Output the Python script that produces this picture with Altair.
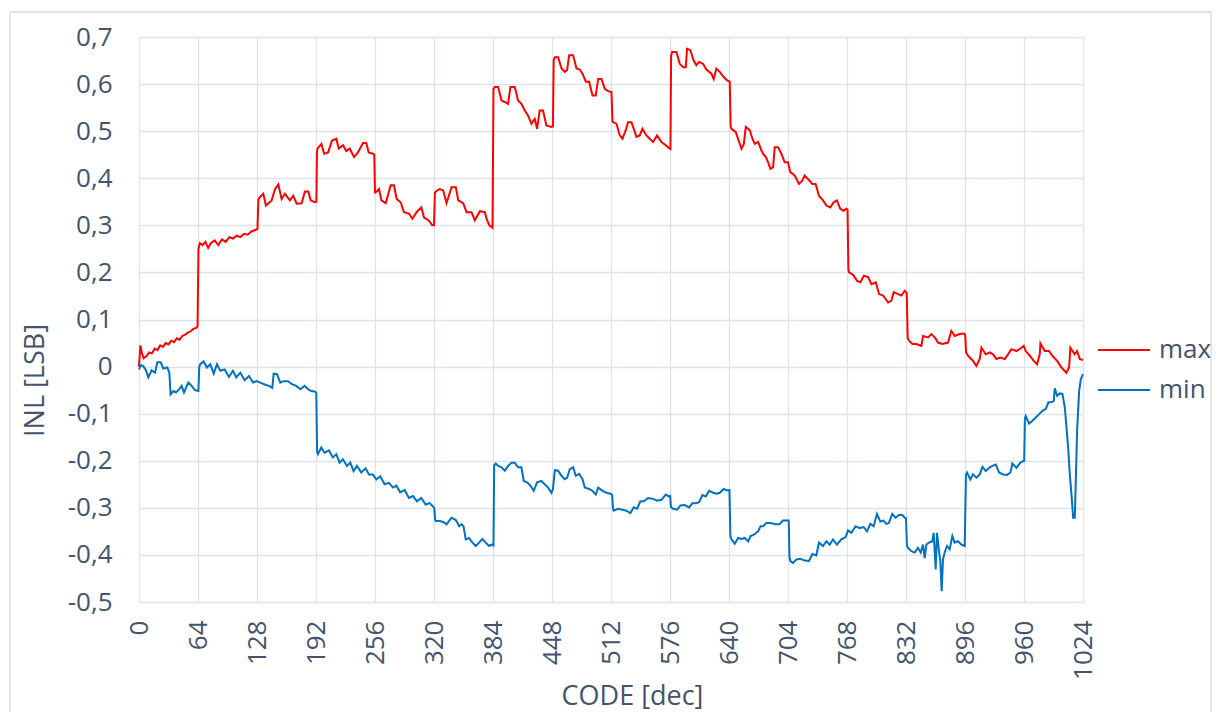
import altair as alt
import pandas as pd

# ---- data ----
max_code = [0, 1.5, 3, 5, 8, 11, 14, 17, 20, 23, 26, 29, 32, 35, 38, 41, 44, 47, 50, 53, 56, 59, 62, 63.5,
            64.5, 66, 69, 72, 75, 78, 82, 86, 90, 94, 98, 102, 106, 110, 114, 118, 122, 126, 128.5,
            129.5, 131.2, 134.8, 137.7, 143.9, 147.5, 151.1, 154.7, 158.3, 163.7, 167.3, 171, 176.4, 180, 183.6, 186.2, 190.8, 192.4,
            193, 193.6, 197.9, 200.8, 205.1, 209.4, 214.1, 216.6, 221.3, 224.9, 228.5, 233.2, 237.5, 243, 246.6, 249.1, 253.8, 255.2,
            256, 256.7, 260.4, 262.9, 267.6, 273, 276.6, 279.5, 283.8, 287.4, 292.9, 296.5, 301.9, 306.3, 309.1, 314.6, 318, 320,
            321, 324, 326.4, 330, 333.6, 339, 343.7, 346.3, 351.7, 355.3, 360.7, 364.3, 369.8, 375.2, 377, 380, 383.5,
            384.5, 386, 389.6, 393.2, 396.8, 400.4, 402.9, 407.6, 411.2, 414.8, 418.5, 422.1, 425.7, 429.3, 431.8, 434.7, 438.3, 441.9, 447.4, 449,
            449.8, 451.1, 454.7, 458.3, 461.9, 464.4, 466.6, 470.9, 474.6, 478.2, 481.1, 484.7, 488.3, 491.9, 495.5, 498.1, 501.7, 505.3, 508.9, 512.5,
            513.6, 514.3, 517.9, 521.5, 524.4, 528, 530.5, 534.2, 536.7, 539.6, 543.2, 546.1, 550.4, 554, 557.6, 562, 566.7, 571.4, 575.7, 576.5,
            577.2, 578.3, 583, 586.6, 590.2, 593.1, 594.5, 598.1, 601.7, 604.6, 607.5, 611.8, 615.5, 620.9, 623.4, 626.3, 630, 634.3, 637.9, 640.8,
            641.8, 642.7, 647.4, 651, 653.5, 656.1, 658.2, 662.6, 665.4, 668, 671.6, 675.2, 677, 680, 682.4, 684.9, 687.8, 689.6, 693.2, 696.8, 700.4, 704,
            706.5, 711.2, 715.9, 719.5, 722.1, 726.8, 730.4, 734, 737.6, 742, 745.6, 749.9, 753.5, 757.1, 760.7, 764.4, 767.2, 768.6,
            769.5, 770.3, 774.6, 779, 782.6, 786.2, 790.9, 794.5, 799.2, 802.8, 807.2, 812.6, 816.2, 818.7, 823.4, 827, 830.6, 832.8,
            833.8, 835.3, 838.9, 843.3, 848.7, 850.5, 855.9, 859.5, 863.2, 866.8, 871.5, 877.6, 881.2, 884.8, 890.3, 894.6, 896.2,
            897.2, 899.3, 904.8, 908.4, 912, 913.8, 918.5, 922.9, 926.5, 930.1, 934.4, 939.1, 942.7, 946.3, 951.8, 957.2, 959.7,
            961.9, 966.3, 970.6, 974.2, 977.1, 977.8, 982.5, 987.2, 990.8, 995.9, 1000.6, 1006, 1008.9, 1010.3, 1015, 1017.6, 1020.5, 1024]
max_inl = [0.0, 0.045, 0.03, 0.018, 0.022, 0.03, 0.028, 0.038, 0.035, 0.045, 0.042, 0.05, 0.047, 0.055, 0.052, 0.06, 0.057, 0.065, 0.068, 0.072, 0.075, 0.08, 0.082, 0.085,
           0.25, 0.262, 0.258, 0.265, 0.252, 0.262, 0.268, 0.258, 0.27, 0.265, 0.275, 0.272, 0.278, 0.275, 0.282, 0.28, 0.287, 0.29, 0.292,
           0.355, 0.36, 0.367, 0.342, 0.353, 0.377, 0.387, 0.356, 0.367, 0.353, 0.363, 0.346, 0.347, 0.372, 0.372, 0.353, 0.349, 0.35,
           0.455, 0.463, 0.473, 0.452, 0.455, 0.48, 0.484, 0.463, 0.47, 0.458, 0.463, 0.445, 0.455, 0.475, 0.475, 0.455, 0.452, 0.45,
           0.37, 0.37, 0.377, 0.353, 0.347, 0.385, 0.385, 0.356, 0.349, 0.328, 0.325, 0.314, 0.33, 0.338, 0.317, 0.31, 0.30, 0.30,
           0.37, 0.375, 0.377, 0.374, 0.347, 0.381, 0.381, 0.353, 0.347, 0.328, 0.328, 0.311, 0.33, 0.328, 0.314, 0.30, 0.295,
           0.59, 0.594, 0.594, 0.565, 0.562, 0.558, 0.594, 0.594, 0.565, 0.558, 0.544, 0.533, 0.516, 0.526, 0.505, 0.544, 0.544, 0.512, 0.509, 0.51,
           0.65, 0.657, 0.657, 0.633, 0.626, 0.63, 0.661, 0.661, 0.633, 0.631, 0.622, 0.605, 0.605, 0.576, 0.576, 0.611, 0.611, 0.59, 0.585, 0.583,
           0.52, 0.519, 0.516, 0.491, 0.484, 0.502, 0.519, 0.519, 0.505, 0.488, 0.491, 0.505, 0.491, 0.484, 0.477, 0.491, 0.477, 0.47, 0.463, 0.462,
           0.66, 0.668, 0.668, 0.643, 0.636, 0.636, 0.675, 0.672, 0.65, 0.64, 0.647, 0.643, 0.631, 0.622, 0.611, 0.633, 0.626, 0.615, 0.608, 0.605,
           0.51, 0.505, 0.498, 0.477, 0.463, 0.473, 0.509, 0.502, 0.484, 0.473, 0.477, 0.459, 0.452, 0.445, 0.434, 0.42, 0.423, 0.466, 0.466, 0.452, 0.434, 0.434,
           0.413, 0.406, 0.388, 0.395, 0.406, 0.396, 0.388, 0.388, 0.363, 0.353, 0.342, 0.338, 0.349, 0.353, 0.335, 0.331, 0.335, 0.333,
           0.205, 0.2, 0.195, 0.182, 0.179, 0.193, 0.19, 0.175, 0.179, 0.154, 0.151, 0.136, 0.14, 0.158, 0.154, 0.151, 0.161, 0.156,
           0.06, 0.055, 0.048, 0.048, 0.044, 0.065, 0.062, 0.069, 0.062, 0.051, 0.048, 0.051, 0.076, 0.065, 0.069, 0.07, 0.068,
           0.03, 0.023, 0.012, 0.0015, 0.016, 0.04, 0.026, 0.03, 0.026, 0.016, 0.019, 0.016, 0.026, 0.037, 0.033, 0.04, 0.044,
           0.033, 0.023, 0.012, 0.005, 0.026, 0.049, 0.033, 0.033, 0.023, 0.012, -0.002, -0.013, -0.002, 0.04, 0.026, 0.033, 0.016, 0.014]

min_code = [0, 2, 4.7, 7.6, 10.1, 13.7, 17.4, 19.9, 23.5, 26.4, 30.7, 32.9, 34.3, 37.2, 40.1, 43.7, 46.3, 48.8, 53.5, 57.1, 60.7, 64.4,
            65.4, 66.5, 70.1, 73.7, 77.4, 81, 84.6, 88.2, 92.9, 97.6, 101.9, 105.5, 109.9, 114.6, 119.3, 123.6, 127.3, 131.6, 136.3, 141, 144.6, 146.1, 149.7, 153.3, 156.9, 161.6, 166.3, 170.6, 175, 179.7, 183.3, 186.9, 190.5, 192.3,
            193.2, 194.1, 197.7, 201.3, 206, 210.4, 214, 217.6, 221.2, 225.6, 229.2, 232.8, 236.4, 241.1, 245.8, 249.4, 253.8, 257.4, 261.7, 266.4, 271.1, 275.5, 279.1, 283.4, 288.1, 292.8, 297.2, 301.5, 306.2, 310.9, 315.3, 318.9, 320.3,
            321.2, 322, 326.3, 330, 333.6, 339, 343.7, 347.3, 349.9, 352, 354.4, 358, 361.7, 365.3, 368.9, 372.5, 376.1, 379.7, 382.3, 384.5,
            385.3, 387, 389.6, 393.2, 396.8, 400.4, 404, 407.6, 411.2, 414.8, 417.4, 421, 424.6, 428.2, 431.8, 436.5, 440.1, 443.7, 447.4, 449, 451.1, 454.7, 458.3, 461.9, 464.4, 467.3, 470.9, 473.8, 477.5, 481.1, 483.6, 488.3, 491.9, 495.5, 498.1, 502.8, 507.1, 511.4, 513.2,
            514.2, 515, 519.7, 524.4, 528.7, 533, 536.7, 540.3, 543.9, 547.5, 552.2, 557.6, 562, 566.7, 571.4, 575, 576.2,
            577, 579.4, 583.7, 587.3, 592, 596.7, 600.3, 604, 607.6, 611.2, 614.8, 618.4, 622.8, 626.4, 630, 634.3, 638, 640.5,
            641.5, 642.7, 646.3, 650, 653.6, 657, 660.8, 663.4, 667, 671.6, 674.2, 677, 680.6, 685, 690.4, 694.8, 698.4, 702.7, 704.8,
            705.6, 706.5, 709.4, 713, 717.3, 722.1, 726.8, 730.4, 734.7, 737.6, 742, 745.6, 749.2, 752.8, 757.1, 761.8, 766.5, 769.1, 772.7, 777.4, 781.7, 786.1, 789.7, 793.3, 796.9, 800.5, 804.1, 807.7, 810.6, 813.5, 817.1, 820.7, 824.4, 828, 830.5, 832,
            833, 834.2, 837.8, 841.4, 845, 848, 850.5, 852.3, 854.1, 857.7, 860.6, 862, 864.2, 865.6, 867.8, 869.2, 870.7, 872.1, 873.9, 876.5, 879.4, 882.3, 884.8, 888.4, 892, 895.7,
            897, 898.2, 901.8, 904.7, 908.4, 912, 914.9, 918.5, 922.1, 925.7, 929.4, 933, 937.3, 941.7, 945.3, 947.4, 951.8, 956.1, 959, 960.2,
            961, 961.9, 965.5, 969.2, 972.8, 976.4, 980, 983.6, 986.5, 989.8, 992.3, 993.4, 995.9, 998.8, 1001.7, 1004.3, 1007.9, 1009.7, 1011.5, 1013.3, 1015.1, 1016.2, 1017.6, 1019.8, 1021.6, 1024]
min_inl = [-0.006, 0.003, 0.001, -0.008, -0.023, -0.008, -0.013, 0.009, 0.009, -0.004, -0.002, -0.013, -0.059, -0.052, -0.055, -0.048, -0.041, -0.055, -0.034, -0.041, -0.05, -0.052,
           0.0, 0.005, 0.011, -0.002, 0.005, -0.015, 0.005, -0.009, -0.006, -0.022, -0.009, -0.023, -0.013, -0.029, -0.02, -0.034, -0.031, -0.034, -0.038, -0.041, -0.045, -0.015, -0.016, -0.034, -0.031, -0.031, -0.038, -0.041, -0.048, -0.041, -0.048, -0.052, -0.053, -0.055,
           -0.18, -0.186, -0.172, -0.183, -0.178, -0.193, -0.186, -0.204, -0.197, -0.211, -0.204, -0.222, -0.211, -0.225, -0.216, -0.229, -0.229, -0.24, -0.233, -0.25, -0.247, -0.257, -0.253, -0.267, -0.262, -0.279, -0.275, -0.286, -0.279, -0.293, -0.29, -0.297, -0.3,
           -0.325, -0.328, -0.328, -0.33, -0.335, -0.321, -0.326, -0.339, -0.335, -0.339, -0.367, -0.364, -0.374, -0.381, -0.374, -0.366, -0.374, -0.381, -0.378, -0.38,
           -0.21, -0.206, -0.211, -0.214, -0.221, -0.211, -0.204, -0.204, -0.214, -0.214, -0.243, -0.246, -0.253, -0.264, -0.246, -0.243, -0.25, -0.257, -0.268, -0.26, -0.22, -0.221, -0.232, -0.239, -0.236, -0.218, -0.214, -0.232, -0.228, -0.239, -0.257, -0.26, -0.264, -0.272, -0.257, -0.264, -0.268, -0.27, -0.272,
           -0.302, -0.306, -0.302, -0.304, -0.306, -0.311, -0.299, -0.302, -0.286, -0.286, -0.279, -0.281, -0.285, -0.283, -0.272, -0.276, -0.275,
           -0.298, -0.302, -0.304, -0.295, -0.294, -0.299, -0.29, -0.29, -0.288, -0.273, -0.276, -0.264, -0.268, -0.27, -0.268, -0.26, -0.263, -0.262,
           -0.36, -0.367, -0.376, -0.364, -0.366, -0.364, -0.371, -0.36, -0.357, -0.35, -0.339, -0.339, -0.332, -0.332, -0.335, -0.335, -0.327, -0.327, -0.327,
           -0.405, -0.413, -0.417, -0.41, -0.408, -0.412, -0.413, -0.398, -0.401, -0.374, -0.381, -0.371, -0.378, -0.367, -0.378, -0.367, -0.362, -0.348, -0.353, -0.339, -0.343, -0.341, -0.35, -0.334, -0.339, -0.313, -0.329, -0.327, -0.334, -0.332, -0.313, -0.321, -0.315, -0.315, -0.321, -0.322,
           -0.38, -0.385, -0.392, -0.395, -0.385, -0.395, -0.378, -0.407, -0.378, -0.373, -0.371, -0.353, -0.431, -0.353, -0.392, -0.413, -0.477, -0.41, -0.395, -0.381, -0.388, -0.36, -0.374, -0.371, -0.378, -0.381,
           -0.23, -0.225, -0.24, -0.229, -0.236, -0.229, -0.213, -0.222, -0.215, -0.211, -0.208, -0.225, -0.229, -0.23, -0.225, -0.206, -0.215, -0.204, -0.201, -0.2,
           -0.11, -0.105, -0.121, -0.115, -0.108, -0.101, -0.094, -0.09, -0.076, -0.076, -0.073, -0.046, -0.062, -0.057, -0.058, -0.087, -0.172, -0.229, -0.272, -0.321, -0.321, -0.241, -0.137, -0.052, -0.027, -0.016]

series_names = ["max", "min"]
series_colors = ["#ff0000", "#0070c0"]
x_ticks = [0, 64, 128, 192, 256, 320, 384, 448, 512, 576, 640, 704, 768, 832, 896, 960, 1024]
y_ticks = [-0.5, -0.4, -0.3, -0.2, -0.1, 0, 0.1, 0.2, 0.3, 0.4, 0.5, 0.6, 0.7]

df = pd.concat([
    pd.DataFrame({"code": max_code, "inl": max_inl, "series": "max"}),
    pd.DataFrame({"code": min_code, "inl": min_inl, "series": "min"}),
])

TEXT = "#44546a"
FONT = "Open Sans"
W, H = 944, 565

lines = alt.Chart(df).mark_line(strokeWidth=2, interpolate="linear").encode(
    x=alt.X("code:Q", scale=alt.Scale(domain=[0, 1024], nice=False, zero=False),
            axis=alt.Axis(values=x_ticks, format="d", title="CODE [dec]", labelAngle=270,
                          labelAlign="right", labelBaseline="middle", labelPadding=18,
                          titleX=493, titleY=94, titleBaseline="middle", titleAlign="center")),
    y=alt.Y("inl:Q", scale=alt.Scale(domain=[-0.5, 0.7], nice=False, zero=False),
            axis=alt.Axis(values=y_ticks, title="INL [LSB]", labelPadding=27,
                          labelExpr="abs(datum.value) < 1e-9 ? '0' : (datum.value < 0 ? '-' : '') + replace(format(abs(datum.value), '.1f'), '.', ',')",
                          titleX=-104, titleY=343, titleAngle=270, titleAlign="center",
                          titleBaseline="middle")),
    color=alt.Color("series:N", scale=alt.Scale(domain=series_names, range=series_colors),
                    legend=alt.Legend(title=None, orient="none", legendX=958, legendY=286,
                                      symbolType="stroke", symbolSize=2704, symbolStrokeWidth=2,
                                      labelOffset=8, rowPadding=0, padding=0)),
)

border = alt.Chart(pd.DataFrame({"k": [0]})).mark_rect(
    fill=None, stroke="#d9d9d9", strokeWidth=1.3
).encode(x=alt.value(-129), x2=alt.value(1072), y=alt.value(-25), y2=alt.value(700))

chart = alt.layer(border, lines).properties(
    width=W, height=H,
    autosize=alt.AutoSizeParams(type="none"),
    padding={"left": 131, "top": 29, "right": 130, "bottom": 110},
).configure(
    background="white", font=FONT
).configure_view(
    stroke=None
).configure_axis(
    domain=False, ticks=False, grid=True, gridColor="#dfe3e9", gridWidth=1.3,
    labelFont=FONT, labelFontSize=26, labelColor=TEXT,
    titleFont=FONT, titleFontSize=27, titleColor=TEXT, titleFontWeight="normal",
).configure_legend(
    labelFont=FONT, labelFontSize=26, labelColor=TEXT,
)

chart.save("out.html", embed_options={"renderer": "svg", "actions": False})
